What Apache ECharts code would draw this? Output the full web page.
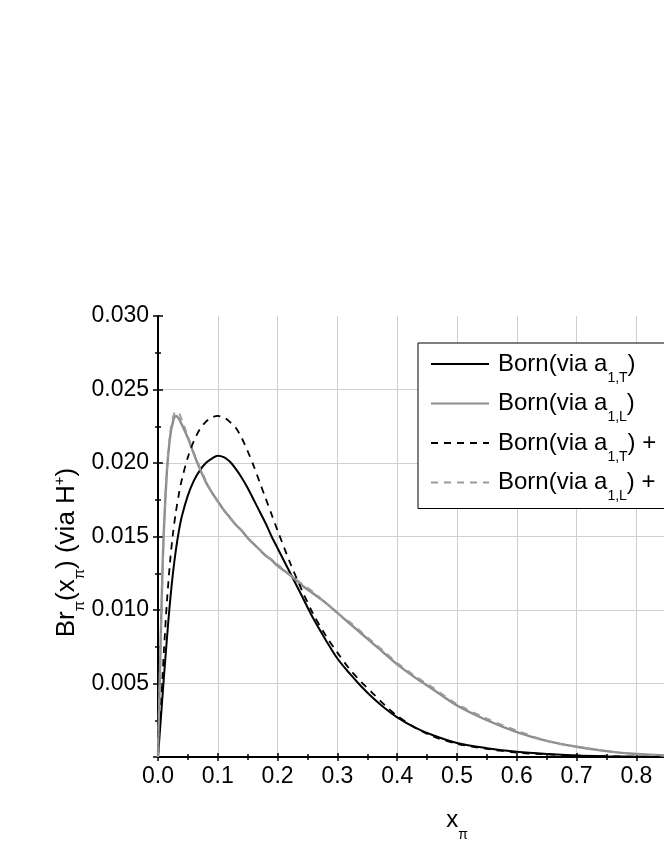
<!DOCTYPE html>
<html>
<head>
<meta charset="utf-8">
<script src="https://cdn.jsdelivr.net/npm/echarts@6/dist/echarts.min.js"></script>
<style>
  html, body { margin: 0; padding: 0; background: #fff; }
  #chart { width: 664px; height: 860px; }
</style>
</head>
<body>
<div id="chart"></div>
<script>
// x grid shared by all curves (finer near 0 where the curves rise steeply)
const xPi = [0, 0.002, 0.004, 0.006, 0.008, 0.01, 0.015, 0.02, 0.025, 0.03, 0.035, 0.04,
  0.05, 0.06, 0.07, 0.08, 0.09, 0.10, 0.11, 0.12, 0.13, 0.14, 0.15, 0.16, 0.17, 0.18, 0.19,
  0.20, 0.22, 0.24, 0.26, 0.28, 0.30, 0.32, 0.34, 0.36, 0.38, 0.40, 0.43, 0.46, 0.50,
  0.55, 0.60, 0.65, 0.70, 0.75, 0.80, 0.85, 0.90, 0.95, 1.0];

// Born(via a1,T)
const bornT = [0, 0.0011, 0.0022, 0.0033, 0.0044, 0.0055, 0.0081, 0.0105, 0.0125, 0.0141, 0.0154, 0.0164,
  0.0178, 0.0188, 0.0195, 0.0200, 0.0203, 0.0205, 0.0204, 0.0201, 0.0196, 0.0190, 0.0183, 0.0175, 0.0167, 0.0159, 0.0150,
  0.0142, 0.0126, 0.0110, 0.0094, 0.0080, 0.0067, 0.0057, 0.0048, 0.0040, 0.0033, 0.0027, 0.0020, 0.00148, 0.00095,
  0.0006, 0.00035, 0.0002, 0.0001, 0.00005, 0.00002, 0.00001, 0, 0, 0];

// Born(via a1,L)
const bornL = [0, 0.0036, 0.0071, 0.0104, 0.0134, 0.0156, 0.0195, 0.0217, 0.0228, 0.0232, 0.0230, 0.0226,
  0.0217, 0.0206, 0.0196, 0.0187, 0.0180, 0.0174, 0.0168, 0.0163, 0.0158, 0.0154, 0.0149, 0.0145, 0.0141, 0.0137, 0.0134,
  0.0130, 0.0124, 0.0117, 0.0111, 0.0105, 0.0098, 0.0091, 0.0084, 0.0077, 0.0070, 0.0063, 0.0054, 0.0046, 0.0035,
  0.0025, 0.0017, 0.0011, 0.0007, 0.0004, 0.0002, 0.0001, 0.00005, 0.00002, 0];

// Born(via a1,T) + ...
const bornTPlus = [0, 0.0014, 0.0028, 0.0043, 0.0058, 0.0073, 0.0106, 0.0132, 0.0152, 0.0167, 0.0179, 0.0189,
  0.0204, 0.0215, 0.0223, 0.0228, 0.0231, 0.0232, 0.0231, 0.0228, 0.0224, 0.0217, 0.0208, 0.0198, 0.0187, 0.0176, 0.0165,
  0.0154, 0.0133, 0.0114, 0.0097, 0.0083, 0.0071, 0.0060, 0.0051, 0.0043, 0.0035, 0.0028, 0.0020, 0.0014, 0.0009,
  0.00055, 0.0003, 0.00018, 0.0001, 0.00005, 0.00002, 0, 0, 0, 0];

// Born(via a1,L) + ...
const bornLPlus = [0, 0.0035, 0.0069, 0.0101, 0.0131, 0.0156, 0.0196, 0.0219, 0.0231, 0.0235, 0.0234, 0.0229,
  0.0218, 0.0207, 0.0197, 0.0188, 0.0180, 0.0174, 0.0168, 0.0163, 0.0158, 0.0154, 0.0149, 0.0145, 0.0141, 0.0137, 0.0134,
  0.0131, 0.0124, 0.0118, 0.0112, 0.0105, 0.0098, 0.0092, 0.0085, 0.0078, 0.0071, 0.0064, 0.0055, 0.0047, 0.0036,
  0.0026, 0.0018, 0.0011, 0.0007, 0.0004, 0.0002, 0.0001, 0.00005, 0.00002, 0];

const seriesNames = ['Born(via a1,T)', 'Born(via a1,L)', 'Born(via a1,T) +', 'Born(via a1,L) +'];
// rich-text versions of the legend labels (subscripts)
const legendRich = {
  'Born(via a1,T)': '{t|Born(via a}{s|1,T}{t|)}',
  'Born(via a1,L)': '{t|Born(via a}{s|1,L}{t|)}',
  'Born(via a1,T) +': '{t|Born(via a}{s|1,T}{t|) +}',
  'Born(via a1,L) +': '{t|Born(via a}{s|1,L}{t|) +}'
};

const FONT = '"Liberation Sans", Arial, sans-serif';

const pairs = (ys) => xPi.map((x, i) => [x, ys[i]]);

// t = normal text, s = subscript (pushed below the baseline), p = superscript
const richStyles = (size, subSize, subDrop) => ({
  t: { fontSize: size, fontFamily: FONT, color: '#000', lineHeight: 30 },
  s: { fontSize: subSize, fontFamily: FONT, color: '#000', verticalAlign: 'bottom', padding: [0, 0, -subDrop, 0] },
  p: { fontSize: subSize, fontFamily: FONT, color: '#000', lineHeight: 8, verticalAlign: 'top' }
});

const gridRect = { left: 158, top: 316, width: 598, height: 441, outerBoundsMode: 'none', containLabel: false };

const chart = echarts.init(document.getElementById('chart'), null, { renderer: 'canvas' });

const option = {
  animation: false,
  backgroundColor: '#fff',
  grid: [
    Object.assign({}, gridRect),
    Object.assign({}, gridRect) // second grid just for the inner half of the ticks
  ],
  legend: {
    orient: 'vertical',
    left: 418,
    top: 343,
    padding: [9, 14, 5, 12],
    itemGap: 6.5,
    itemWidth: 58,
    itemHeight: 14,
    borderColor: '#000',
    borderWidth: 1,
    borderRadius: 0,
    backgroundColor: '#fff',
    itemStyle: { opacity: 0, borderWidth: 0 },
    data: seriesNames,
    formatter: (name) => legendRich[name],
    textStyle: { padding: [0, 0, 0, 4], rich: richStyles(24, 14, 6) }
  },
  xAxis: [
    {
      type: 'value', gridIndex: 0, min: 0, max: 1, interval: 0.1,
      name: '{t|x}{s|π}', nameLocation: 'middle', nameGap: 48, nameMoveOverlap: false,
      nameTextStyle: { rich: richStyles(24, 14, 7) },
      axisLine: { onZero: false, lineStyle: { color: '#000', width: 2 } },
      axisTick: { length: 4, lineStyle: { color: '#000', width: 1.5 } },
      minorTick: { show: true, splitNumber: 2, length: 3, lineStyle: { color: '#000', width: 1.5 } },
      axisLabel: { margin: 8, fontSize: 23, fontFamily: FONT, color: '#000',
        formatter: (v) => v.toFixed(1) },
      splitLine: { show: true, lineStyle: { color: '#cfcfcf', width: 1 } }
    },
    {
      type: 'value', gridIndex: 1, min: 0, max: 1, interval: 0.1,
      axisLine: { show: false },
      axisTick: { inside: true, length: 4, lineStyle: { color: '#000', width: 1.5 } },
      minorTick: { show: true, splitNumber: 2, length: 3, lineStyle: { color: '#000', width: 1.5 } },
      axisLabel: { show: false },
      splitLine: { show: false }
    }
  ],
  yAxis: [
    {
      type: 'value', gridIndex: 0, min: 0, max: 0.03, interval: 0.005,
      name: '{t|Br}{s|π}{t|(x}{s|π}{t|) (via H}{p|+}{t|)}',
      nameLocation: 'middle', nameGap: 76, nameRotate: 90, nameMoveOverlap: false,
      nameTextStyle: { padding: [0, 32, 0, 0], rich: richStyles(26, 15, 5) },
      axisLine: { lineStyle: { color: '#000', width: 2 } },
      axisTick: { length: 5, lineStyle: { color: '#000', width: 1.5 } },
      minorTick: { show: true, splitNumber: 2, length: 3, lineStyle: { color: '#000', width: 1.5 } },
      axisLabel: { margin: 9, fontSize: 23, fontFamily: FONT, color: '#000',
        formatter: (v) => (v === 0 ? '' : v.toFixed(3)) },
      splitLine: { show: true, showMaxLine: false, lineStyle: { color: '#cfcfcf', width: 1 } }
    },
    {
      type: 'value', gridIndex: 1, min: 0, max: 0.03, interval: 0.005,
      axisLine: { show: false },
      axisTick: { inside: true, length: 5, lineStyle: { color: '#000', width: 1.5 } },
      minorTick: { show: true, splitNumber: 2, length: 3, lineStyle: { color: '#000', width: 1.5 } },
      axisLabel: { show: false },
      splitLine: { show: false }
    }
  ],
  series: [
    {
      name: seriesNames[0], type: 'line', xAxisIndex: 0, yAxisIndex: 0,
      data: pairs(bornT), showSymbol: false, symbol: 'none', smooth: 0.3,
      lineStyle: { color: '#000', width: 2 }, itemStyle: { color: '#000' }
    },
    {
      name: seriesNames[1], type: 'line', xAxisIndex: 0, yAxisIndex: 0,
      data: pairs(bornL), showSymbol: false, symbol: 'none', smooth: 0.3,
      lineStyle: { color: '#8c8c8c', width: 2.4 }, itemStyle: { color: '#8c8c8c' }
    },
    {
      name: seriesNames[2], type: 'line', xAxisIndex: 0, yAxisIndex: 0,
      data: pairs(bornTPlus), showSymbol: false, symbol: 'none', smooth: 0.3,
      lineStyle: { color: '#000', width: 1.8, type: [7, 6] }, itemStyle: { color: '#000' }
    },
    {
      name: seriesNames[3], type: 'line', xAxisIndex: 0, yAxisIndex: 0,
      data: pairs(bornLPlus), showSymbol: false, symbol: 'none', smooth: 0.3,
      lineStyle: { color: '#9a9a9a', width: 2, type: [7, 6] }, itemStyle: { color: '#9a9a9a' }
    }
  ]
};

chart.setOption(option);
</script>
</body>
</html>
